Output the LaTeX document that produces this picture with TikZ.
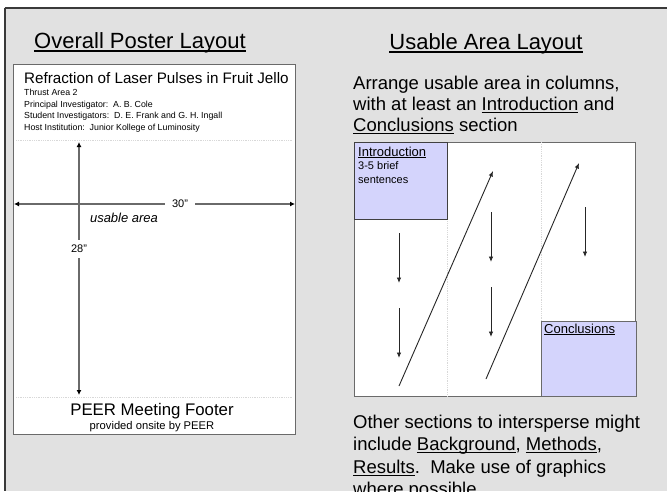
\documentclass[tikz,border=0pt]{standalone}
\usepackage{fontspec}
\setmainfont{Liberation Sans}
\usetikzlibrary{arrows.meta}
\definecolor{bggray}{HTML}{E1E1E1}
\definecolor{framecol}{HTML}{3A3A3A}
\definecolor{boxline}{HTML}{6A6A6A}
\definecolor{lav}{HTML}{D4D4FC}
\definecolor{divline}{HTML}{D8D8D8}
\newcommand\uln[1]{{\sbox0{#1}\rlap{\rule[-0.16em]{\wd0}{0.075em}}\usebox0}}
\newcommand\fsz[1]{\fontsize{#1}{#1}\selectfont}
\begin{document}
\begin{tikzpicture}[x=1pt,y=-1pt,
  panel/.style={draw=boxline, line width=1.3pt, fill=white, inner sep=0pt, anchor=north west},
  txt/.style={inner sep=0pt, anchor=base west, text=black},
  ctxt/.style={inner sep=0pt, anchor=base, text=black},
  divider/.style={draw=divline, line width=0.8pt, densely dotted},
  dimarr/.style={draw=boxline, line width=1.1pt, arrows={Latex[length=5pt,width=5pt,color=black]-Latex[length=5pt,width=5pt,color=black]}},
  flowarr/.style={draw=black!85, line width=0.9pt, arrows={-Latex[length=5.5pt,width=4.5pt]}},
  dimlabel/.style={fill=white, text=black, font=\fsz{11}}
]
\useasboundingbox (0,0) rectangle (667,491);
\begin{scope}
\clip (0,0) rectangle (667,491);
\fill[white] (0,0) rectangle (667,491);
\fill[bggray] (5,8) rectangle (667,491);
\draw[framecol, line width=2pt] (4.5,8) -- (667,8);
\draw[framecol, line width=1.5pt] (5,8) -- (5,491);

% titles
\node[ctxt, font=\fsz{22}] (t1) at (140,48) {\uln{Overall Poster Layout}};
\node[ctxt, font=\fsz{22}] (t2) at (486,49) {\uln{Usable Area Layout}};

% ---------- left: overall poster ----------
\node[panel, minimum width=282, minimum height=370] (poster) at (13,64) {};
\node[txt, font=\fsz{15.2}] (ptitle) at (24,83.5) {Refraction of Laser Pulses in Fruit Jello};
\node[txt, font=\fsz{8.8}] (h1) at (24,95) {Thrust Area 2};
\node[txt, font=\fsz{8.8}] (h2) at (24,107) {Principal Investigator:\ \ A. B. Cole};
\node[txt, font=\fsz{8.8}] (h3) at (24,118.5) {Student Investigators:\ \ D. E. Frank and G. H. Ingall};
\node[txt, font=\fsz{8.8}] (h4) at (24,130) {Host Institution:\ \ Junior Kollege of Luminosity};

\coordinate (d1a) at (16,140); \coordinate (d1b) at (292,140);
\coordinate (d2a) at (16,397); \coordinate (d2b) at (292,397);
\draw[divider] (d1a) -- (d1b);
\draw[divider] (d2a) -- (d2b);

\coordinate (vt) at (79,142); \coordinate (vb) at (79,395);
\coordinate (hl) at (14,204); \coordinate (hr) at (295,204);
\draw[dimarr] (vt) -- (vb);
\draw[dimarr] (hl) -- (hr);
\node[dimlabel, inner xsep=7pt, inner ysep=1pt] (l30) at (180,204) {30"};
\node[dimlabel, inner xsep=1pt, inner ysep=5pt] (l28) at (79,249) {28"};
\node[ctxt, font=\fsz{13}\itshape] (ua) at (124,222) {usable area};

\node[ctxt, font=\fsz{16.8}] (foot) at (152,415) {PEER Meeting Footer};
\node[ctxt, font=\fsz{11.2}] (foot2) at (152,429) {provided onsite by PEER};

% ---------- right: usable area ----------
\node[txt, font=\fsz{18.5}] (r1) at (353,89.5) {Arrange usable area in columns,};
\node[txt, font=\fsz{18.5}] (r2) at (353,110.5) {with at least an \uln{Introduction} and};
\node[txt, font=\fsz{18.5}] (r3) at (353,131.5) {\uln{Conclusions} section};

\node[panel, minimum width=281, minimum height=254] (area) at (354,142) {};
\coordinate (c1t) at (447,142); \coordinate (c1b) at (447,396);
\coordinate (c2t) at (541,142); \coordinate (c2b) at (541,396);
\draw[divider] (c1t) -- (c1b);
\draw[divider] (c2t) -- (c2b);

\node[panel, draw=black!75, line width=1pt, fill=lav, minimum width=93, minimum height=77] (intro) at (354,142) {};
\node[panel, fill=lav, line width=1.2pt, minimum width=95, minimum height=75] (concl) at (541,321) {};
\node[txt, font=\fsz{13}] (introT) at (358,156) {\uln{Introduction}};
\node[txt, font=\fsz{11}] (introS1) at (358,169.5) {3-5 brief};
\node[txt, font=\fsz{11}] (introS2) at (358,183.5) {sentences};
\node[txt, font=\fsz{13}] (conclT) at (544,333) {\uln{Conclusions}};

\coordinate (a1s) at (399,233); \coordinate (a1e) at (399,283);
\coordinate (a2s) at (399,308); \coordinate (a2e) at (399,358);
\coordinate (a3s) at (491,212); \coordinate (a3e) at (491,262);
\coordinate (a4s) at (491,287); \coordinate (a4e) at (491,337);
\coordinate (a5s) at (585,207); \coordinate (a5e) at (585,257);
\coordinate (g1s) at (399,386); \coordinate (g1e) at (493,171);
\coordinate (g2s) at (486,379); \coordinate (g2e) at (579,163);
\draw[flowarr] (a1s) -- (a1e);
\draw[flowarr] (a2s) -- (a2e);
\draw[flowarr] (a3s) -- (a3e);
\draw[flowarr] (a4s) -- (a4e);
\draw[flowarr] (a5s) -- (a5e);
\draw[flowarr] (g1s) -- (g1e);
\draw[flowarr] (g2s) -- (g2e);

\node[txt, font=\fsz{18.5}] (b1) at (353,428) {Other sections to intersperse might};
\node[txt, font=\fsz{18.5}] (b2) at (353,450.5) {include \uln{Background}, \uln{Methods},};
\node[txt, font=\fsz{18.5}] (b3) at (353,473) {\uln{Results}.\ \ Make use of graphics};
\node[txt, font=\fsz{18.5}] (b4) at (353,495.5) {where possible.};
\end{scope}
\end{tikzpicture}
\end{document}
